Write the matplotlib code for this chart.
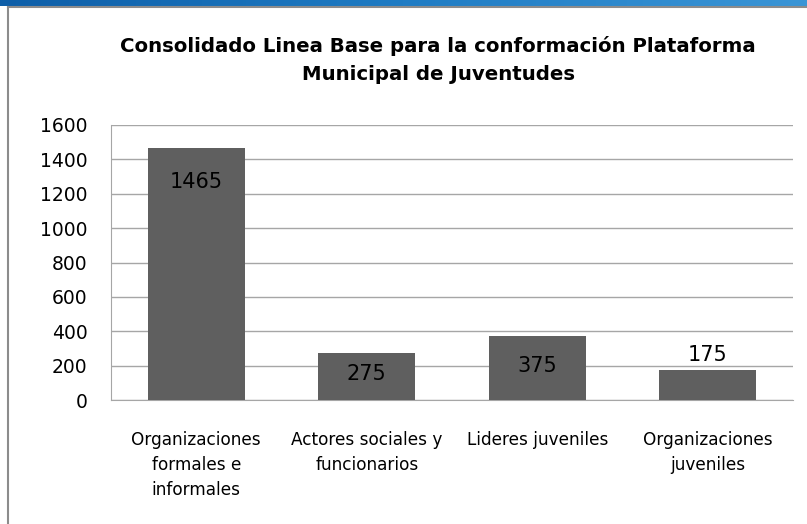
import numpy as np
import matplotlib.pyplot as plt
from matplotlib.lines import Line2D
from matplotlib.colors import LinearSegmentedColormap

plt.rcParams['font.family'] = ['DejaVu Sans']

categorias = ['Organizaciones\nformales e\ninformales', 'Actores sociales y\nfuncionarios',
              'Lideres juveniles', 'Organizaciones\njuveniles']
valores = [1465, 275, 375, 175]
yticks = [0, 200, 400, 600, 800, 1000, 1200, 1400, 1600]

# where the value labels sit relative to the bar top (points)
label_offsets = [-24, -15, -22, 11]

fig = plt.figure(figsize=(8.07, 5.24), dpi=100)

# blue strip at the top of the slide
strip = fig.add_axes([0, 1 - 6 / 524, 1, 6 / 524])
grad = np.linspace(0, 1, 256).reshape(1, -1)
cmap = LinearSegmentedColormap.from_list('b', ['#0d5ea8', '#1f7cc4', '#3a95d6'])
strip.imshow(grad, aspect='auto', cmap=cmap)
strip.axis('off')

# frame lines of the chart box
fig.add_artist(Line2D([7.5 / 807, 7.5 / 807], [0, 1 - 7 / 524], transform=fig.transFigure,
                      color='#8c8c8c', lw=1.5))
fig.add_artist(Line2D([7.5 / 807, 1], [1 - 7 / 524, 1 - 7 / 524], transform=fig.transFigure,
                      color='#8c8c8c', lw=1.5))

ax = fig.add_axes([111 / 807, 1 - 400 / 524, (793 - 111) / 807, 275 / 524])
x = np.arange(len(categorias))
bars = ax.bar(x, valores, width=0.57, color='#5f5f5f', zorder=3)
ax.set_xlim(-0.5, len(categorias) - 0.5)
ax.set_ylim(0, 1600)
ax.set_yticks(yticks)
ax.set_yticklabels([str(t) for t in yticks], fontsize=13.5, color='black')
ax.yaxis.grid(True, color='#a6a6a6', lw=1, zorder=0)
ax.tick_params(axis='y', length=0, pad=17)
ax.tick_params(axis='x', length=0, pad=22)
ax.set_xticks(x)
ax.set_xticklabels(categorias, fontsize=12.2, linespacing=1.5, va='top')
for s in ['top', 'right']:
    ax.spines[s].set_visible(False)
ax.spines['left'].set_color('#a6a6a6')
ax.spines['bottom'].set_color('#a6a6a6')

for xi, v, off in zip(x, valores, label_offsets):
    ax.annotate(str(v), (xi, v), xytext=(0, off), textcoords='offset points',
                ha='center', va='center', fontsize=15, color='black', zorder=4)

fig.text(438 / 807, 1 - 60 / 524,
         'Consolidado Linea Base para la conformación Plataforma\nMunicipal de Juventudes',
         ha='center', va='center', fontsize=14.2, fontweight='bold', linespacing=1.65)

fig.savefig('out.png', dpi=100)
